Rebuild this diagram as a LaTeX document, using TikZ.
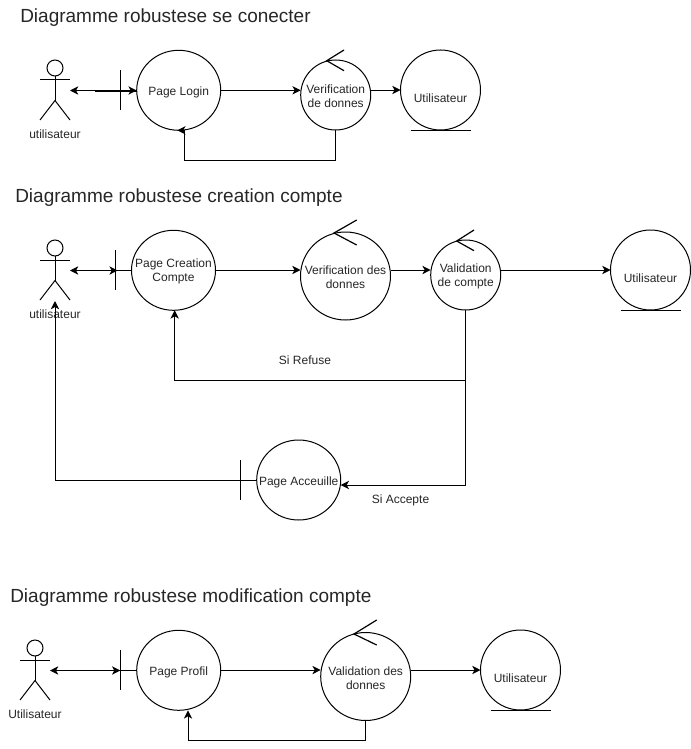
\documentclass[tikz,border=0pt]{standalone}
\usepackage{fontspec}
\setmainfont{Liberation Sans}
\usetikzlibrary{shapes.geometric,arrows.meta}
\newcommand\tp{\rule{0pt}{8.8pt}}
\tikzset{
  every node/.style={font=\fontsize{9}{10.5}\selectfont,text=black!85},
  ln/.style={line width=0.75pt,draw=black},
  obj/.style={ellipse,ln,inner sep=-16pt,outer sep=0pt,align=center,minimum width=#1*0.75pt,minimum height=#1*0.75pt},
  objxy/.style 2 args={ellipse,ln,inner sep=-16pt,outer sep=0pt,align=center,minimum width=#1*0.75pt,minimum height=#2*0.75pt},
  lowtext/.style={text height=18.3pt,text depth=0pt},
  midtext/.style={text height=8.3pt,text depth=0pt},
  caption/.style={font=\fontsize{14.25}{16}\selectfont,anchor=west,inner sep=0pt},
  lbl/.style={inner sep=0pt},
  flow/.style={ln,-{Stealth[length=6.2pt,width=6.2pt,inset=1.7pt]}},
  biflow/.style={ln,{Stealth[length=6.2pt,width=6.2pt,inset=1.7pt]}-{Stealth[length=6.2pt,width=6.2pt,inset=1.7pt]}},
  actorpic/.pic={
    \node[circle,ln,minimum size=12pt,inner sep=0pt,outer sep=0pt] (-head) at (0,-22) {};
    \coordinate (-hip) at (0,10.5);
    \coordinate (-port) at (15,0.5);
    \coordinate (-feet) at (0,31);
    \draw[ln] (-head.south) -- (-hip);
    \draw[ln] (-15,-10) -- (15,-10);
    \draw[ln] (-15,30) -- (-hip) -- (15,30);
  }
}
\begin{document}
\begin{tikzpicture}[x=0.75pt,y=-0.75pt]
\useasboundingbox (0,0) rectangle (691,749);

% ---------- Diagram 1
\node[caption] (t1) at (20,17.5) {Diagramme robustese se conecter};
\pic (a1) at (55,90) {actorpic};
\node[lbl] (a1t) at (55,134.5) {utilisateur};
\node[objxy={84}{80},midtext] (login) at (178.7,90.3) {Page Login};
\node[obj=70] (verif1) at (335.7,95) {\tp Verification\\de donnes};
\node[obj=80,lowtext] (u1) at (440.5,90) {Utilisateur};
\coordinate (bar1a) at (120.3,70);
\coordinate (bar1b) at (120.3,110);
\coordinate (dbl1) at (95,91);
\coordinate (ret1) at (184.7,160);
\draw[ln] (bar1a) -- (bar1b);
\draw[biflow] (a1-port) -- (a1-port -| login.west);
\draw[ln] (dbl1) -- (dbl1 -| login.west);
\draw[flow] (login.east) -- (login.east -| verif1.west);
\draw[flow] (verif1.east |- u1.west) -- (u1.west);
\draw[ln] (verif1.south) |- (ret1) -- (ret1 |- login.south);
\draw[flow] (ret1 |- login.south) -- ++(-7.5,0);
\draw[ln,line width=0.9pt] (344,50) -- (326.7,60.7) -- (344,70.7);
\draw[ln] ([xshift=-22.5pt]u1.south) -- ([xshift=22.5pt]u1.south);

% ---------- Diagram 2
\node[caption] (t2) at (15,197.5) {Diagramme robustese creation compte};
\pic (a2) at (55,270) {actorpic};
\node[lbl] (a2t) at (55,314.5) {utilisateur};
\node[objxy={84}{80}] (create) at (173.5,270.3) {\tp Page Creation\\Compte};
\node[objxy={90}{88}] (verif2) at (345.5,276) {\tp Verification des\\donnes};
\node[obj=70] (valid) at (465.7,275) {\tp Validation\\de compte};
\node[obj=80,lowtext] (u2) at (650.5,270) {Utilisateur};
\node[objxy={84}{80},midtext] (accueil) at (298.7,480) {Page Acceuille};
\node[lbl] (refuse) at (305,360.5) {Si Refuse};
\node[lbl] (accepte) at (400.5,500.5) {Si Accepte};
\coordinate (bar2a) at (115.3,250);
\coordinate (bar2b) at (115.3,290);
\coordinate (stem2) at (115.3,270);
\coordinate (bar3a) at (240,460);
\coordinate (bar3b) at (240,500);
\coordinate (dbl2) at (93,270.7);
\coordinate (rejoin) at (465.7,380);
\coordinate (acc) at (465.7,485);
\draw[ln] (bar2a) -- (bar2b);
\draw[ln] (stem2) -- (stem2 -| create.west);
\draw[biflow] (a2-port) -- ++(47.7,0);
\draw[ln] (dbl2) -- (stem2 |- dbl2);
\draw[flow] (create.east |- stem2) -- (stem2 -| verif2.west);
\draw[flow] (verif2.east |- stem2) -- (stem2 -| valid.west);
\draw[flow] (valid.east |- u2.west) -- (u2.west);
\draw[ln] (valid.south) -- (acc);
\draw[flow] (rejoin) -| (create.south -| 174.7,0);
\draw[flow] (acc) -- (acc -| accueil.east);
\draw[ln] (bar3a) -- (bar3b);
\draw[flow] (accueil.west) -| (a2-feet);
\draw[ln,line width=0.9pt] (356.7,220) -- (334,233) -- (356.7,245);
\draw[ln,line width=0.9pt] (474,230) -- (456.7,241) -- (474,250.7);
\draw[ln] ([xshift=-22.5pt]u2.south) -- ([xshift=22.5pt]u2.south);

% ---------- Diagram 3
\node[caption] (t3) at (10,597.5) {Diagramme robustese modification compte};
\pic (a3) at (35,670) {actorpic};
\node[lbl] (a3t) at (35,714.5) {Utilisateur};
\node[objxy={84}{80},midtext] (profil) at (178.7,670.3) {Page Profil};
\node[objxy={90}{88}] (valid3) at (365.7,676.5) {\tp Validation des\\donnes};
\node[obj=80,lowtext] (u3) at (520.5,670) {Utilisateur};
\coordinate (bar4a) at (120.3,650);
\coordinate (bar4b) at (120.3,690);
\coordinate (stem4) at (120.3,670);
\coordinate (ret3) at (188,740);
\draw[ln] (bar4a) -- (bar4b);
\draw[ln] (stem4) -- (stem4 -| profil.west);
\draw[biflow] (a3-port) -- (a3-port -| stem4);
\draw[flow] (profil.east |- stem4) -- (stem4 -| valid3.west);
\draw[flow] (valid3.east |- u3.west) -- (u3.west);
\draw[ln] (valid3.south) |- (ret3);
\draw[flow] (ret3) -- (ret3 |- profil.south);
\draw[ln,line width=0.9pt] (376.7,620) -- (354,634) -- (376.7,645);
\draw[ln] ([xshift=-22.5pt]u3.south) -- ([xshift=22.5pt]u3.south);
\end{tikzpicture}
\end{document}
